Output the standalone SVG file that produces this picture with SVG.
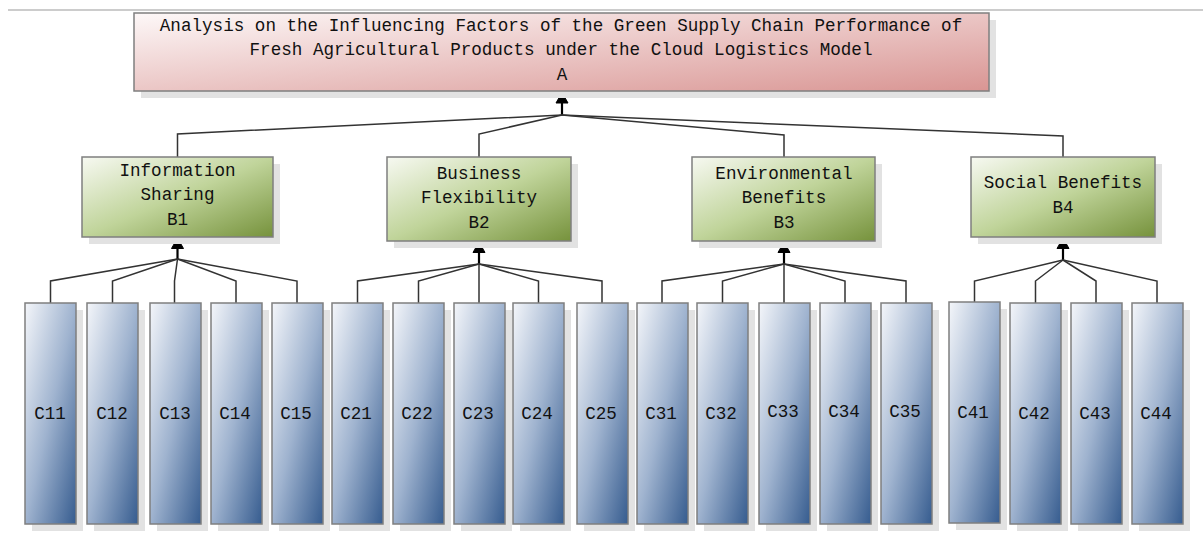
<svg xmlns="http://www.w3.org/2000/svg" width="1203" height="549" viewBox="0 0 1203 549">
<defs>
<linearGradient id="gA" x1="0" y1="0" x2="1" y2="1"><stop offset="0" stop-color="#fdf8f8"/><stop offset="1" stop-color="#d99593"/></linearGradient>
<linearGradient id="gB" x1="0" y1="0" x2="1" y2="1"><stop offset="0" stop-color="#f7f9f2"/><stop offset="0.5" stop-color="#c0d49a"/><stop offset="1" stop-color="#76923c"/></linearGradient>
<linearGradient id="gC" x1="0" y1="0" x2="1" y2="1"><stop offset="0" stop-color="#f4f6fa"/><stop offset="0.5" stop-color="#9fb3cf"/><stop offset="1" stop-color="#365c8f"/></linearGradient>
</defs>
<style>
.sh{fill:#e2e2e2}
.bx{stroke:#7f7f7f;stroke-width:1.5}
.a{fill:url(#gA)}
.b{fill:url(#gB)}
.c{fill:url(#gC)}
text{font-family:"Liberation Mono","DejaVu Sans Mono",monospace;font-size:17.6px;fill:#111;text-anchor:middle}
.ln{fill:none;stroke:#333;stroke-width:1.5}
.st{fill:none;stroke:#000;stroke-width:2.2}
.hd{fill:#000;stroke:#000;stroke-width:1;stroke-linejoin:miter}
</style>
<line x1="8" y1="10" x2="1203" y2="10" stroke="#999" stroke-width="1.2"/>

<g id="connectors">
<line class="st" x1="562" y1="115" x2="562" y2="101"/>
<polygon class="hd" points="562,92.5 568,103 556,103"/>
<polyline class="ln" points="562,115 177.5,134 177.5,157"/>
<polyline class="ln" points="562,115 479,134 479,157"/>
<polyline class="ln" points="562,115 784,135 784,157"/>
<polyline class="ln" points="562,115 1063,136 1063,157"/>

<line class="st" x1="177.5" y1="259" x2="177.5" y2="246"/>
<polygon class="hd" points="177.5,238 183.5,248.5 171.5,248.5"/>
<polyline class="ln" points="177.5,259 50.5,281 50.5,303"/>
<polyline class="ln" points="177.5,259 112.5,281 112.5,303"/>
<polyline class="ln" points="177.5,259 174.5,281 174.5,303"/>
<polyline class="ln" points="177.5,259 236,281 236,303"/>
<polyline class="ln" points="177.5,259 297,281 297,303"/>

<line class="st" x1="479" y1="264" x2="479" y2="250"/>
<polygon class="hd" points="479,242 485,252.5 473,252.5"/>
<polyline class="ln" points="479,264 357.5,281 357.5,303"/>
<polyline class="ln" points="479,264 418.5,281 418.5,303"/>
<polyline class="ln" points="479,264 479,303"/>
<polyline class="ln" points="479,264 538.5,281 538.5,303"/>
<polyline class="ln" points="479,264 602,281 602,303"/>

<line class="st" x1="784" y1="264" x2="784" y2="250"/>
<polygon class="hd" points="784,242 790,252.5 778,252.5"/>
<polyline class="ln" points="784,264 662,281 662,303"/>
<polyline class="ln" points="784,264 722.5,281 722.5,303"/>
<polyline class="ln" points="784,264 784,303"/>
<polyline class="ln" points="784,264 845,281 845,303"/>
<polyline class="ln" points="784,264 906,281 906,303"/>

<line class="st" x1="1063" y1="260" x2="1063" y2="246"/>
<polygon class="hd" points="1063,238 1069,248.5 1057,248.5"/>
<polyline class="ln" points="1063,260 974.5,281 974.5,302"/>
<polyline class="ln" points="1063,260 1035.5,281 1035.5,303"/>
<polyline class="ln" points="1063,260 1096,281 1096,303"/>
<polyline class="ln" points="1063,260 1157,281 1157,303"/>
</g>

<g id="A">
<rect class="sh" x="141" y="20" width="855" height="78"/>
<rect class="bx a" x="134" y="13" width="855" height="78"/>
<text x="561" y="31">Analysis on the Influencing Factors of the Green Supply Chain Performance of</text>
<text x="561" y="55">Fresh Agricultural Products under the Cloud Logistics Model</text>
<text x="562" y="80">A</text>
</g>

<g id="B1">
<rect class="sh" x="89" y="164" width="191" height="80"/>
<rect class="bx b" x="82" y="157" width="191" height="80"/>
<text x="177.5" y="176">Information</text>
<text x="177.5" y="200">Sharing</text>
<text x="177.5" y="225">B1</text>
</g>
<g id="B2">
<rect class="sh" x="394" y="164" width="184" height="84"/>
<rect class="bx b" x="387" y="157" width="184" height="84"/>
<text x="479" y="179">Business</text>
<text x="479" y="203">Flexibility</text>
<text x="479" y="228">B2</text>
</g>
<g id="B3">
<rect class="sh" x="699" y="164" width="183" height="84"/>
<rect class="bx b" x="692" y="157" width="183" height="84"/>
<text x="784" y="179">Environmental</text>
<text x="784" y="203">Benefits</text>
<text x="784" y="228">B3</text>
</g>
<g id="B4">
<rect class="sh" x="978" y="164" width="184" height="80"/>
<rect class="bx b" x="971" y="157" width="184" height="80"/>
<text x="1063" y="188">Social Benefits</text>
<text x="1063" y="213">B4</text>
</g>

<g id="C11"><rect class="sh" x="32" y="310" width="51" height="221"/><rect class="bx c" x="25" y="303" width="51" height="221"/><text x="50" y="419">C11</text></g>
<g id="C12"><rect class="sh" x="94" y="310" width="51" height="221"/><rect class="bx c" x="87" y="303" width="51" height="221"/><text x="112" y="419">C12</text></g>
<g id="C13"><rect class="sh" x="157" y="310" width="51" height="221"/><rect class="bx c" x="150" y="303" width="51" height="221"/><text x="175" y="419">C13</text></g>
<g id="C14"><rect class="sh" x="218" y="310" width="51" height="221"/><rect class="bx c" x="211" y="303" width="51" height="221"/><text x="235" y="419">C14</text></g>
<g id="C15"><rect class="sh" x="279" y="310" width="51" height="221"/><rect class="bx c" x="272" y="303" width="51" height="221"/><text x="296" y="419">C15</text></g>

<g id="C21"><rect class="sh" x="339" y="310" width="51" height="221"/><rect class="bx c" x="332" y="303" width="51" height="221"/><text x="356" y="419">C21</text></g>
<g id="C22"><rect class="sh" x="400" y="310" width="51" height="221"/><rect class="bx c" x="393" y="303" width="51" height="221"/><text x="417" y="419">C22</text></g>
<g id="C23"><rect class="sh" x="461" y="310" width="51" height="221"/><rect class="bx c" x="454" y="303" width="51" height="221"/><text x="478" y="419">C23</text></g>
<g id="C24"><rect class="sh" x="520" y="310" width="51" height="221"/><rect class="bx c" x="513" y="303" width="51" height="221"/><text x="537" y="419">C24</text></g>
<g id="C25"><rect class="sh" x="584" y="310" width="51" height="221"/><rect class="bx c" x="577" y="303" width="51" height="221"/><text x="601" y="419">C25</text></g>

<g id="C31"><rect class="sh" x="644" y="310" width="51" height="221"/><rect class="bx c" x="637" y="303" width="51" height="221"/><text x="661" y="419">C31</text></g>
<g id="C32"><rect class="sh" x="704" y="310" width="51" height="221"/><rect class="bx c" x="697" y="303" width="51" height="221"/><text x="721" y="419">C32</text></g>
<g id="C33"><rect class="sh" x="766" y="310" width="51" height="221"/><rect class="bx c" x="759" y="303" width="51" height="221"/><text x="783" y="417">C33</text></g>
<g id="C34"><rect class="sh" x="827" y="310" width="51" height="221"/><rect class="bx c" x="820" y="303" width="51" height="221"/><text x="844" y="417">C34</text></g>
<g id="C35"><rect class="sh" x="888" y="310" width="51" height="221"/><rect class="bx c" x="881" y="303" width="51" height="221"/><text x="905" y="417">C35</text></g>

<g id="C41"><rect class="sh" x="956" y="309" width="51" height="221"/><rect class="bx c" x="949" y="302" width="51" height="221"/><text x="973" y="418">C41</text></g>
<g id="C42"><rect class="sh" x="1017" y="310" width="51" height="221"/><rect class="bx c" x="1010" y="303" width="51" height="221"/><text x="1034" y="419">C42</text></g>
<g id="C43"><rect class="sh" x="1078" y="310" width="51" height="221"/><rect class="bx c" x="1071" y="303" width="51" height="221"/><text x="1095" y="419">C43</text></g>
<g id="C44"><rect class="sh" x="1139" y="310" width="51" height="221"/><rect class="bx c" x="1132" y="303" width="51" height="221"/><text x="1156" y="419">C44</text></g>
</svg>
